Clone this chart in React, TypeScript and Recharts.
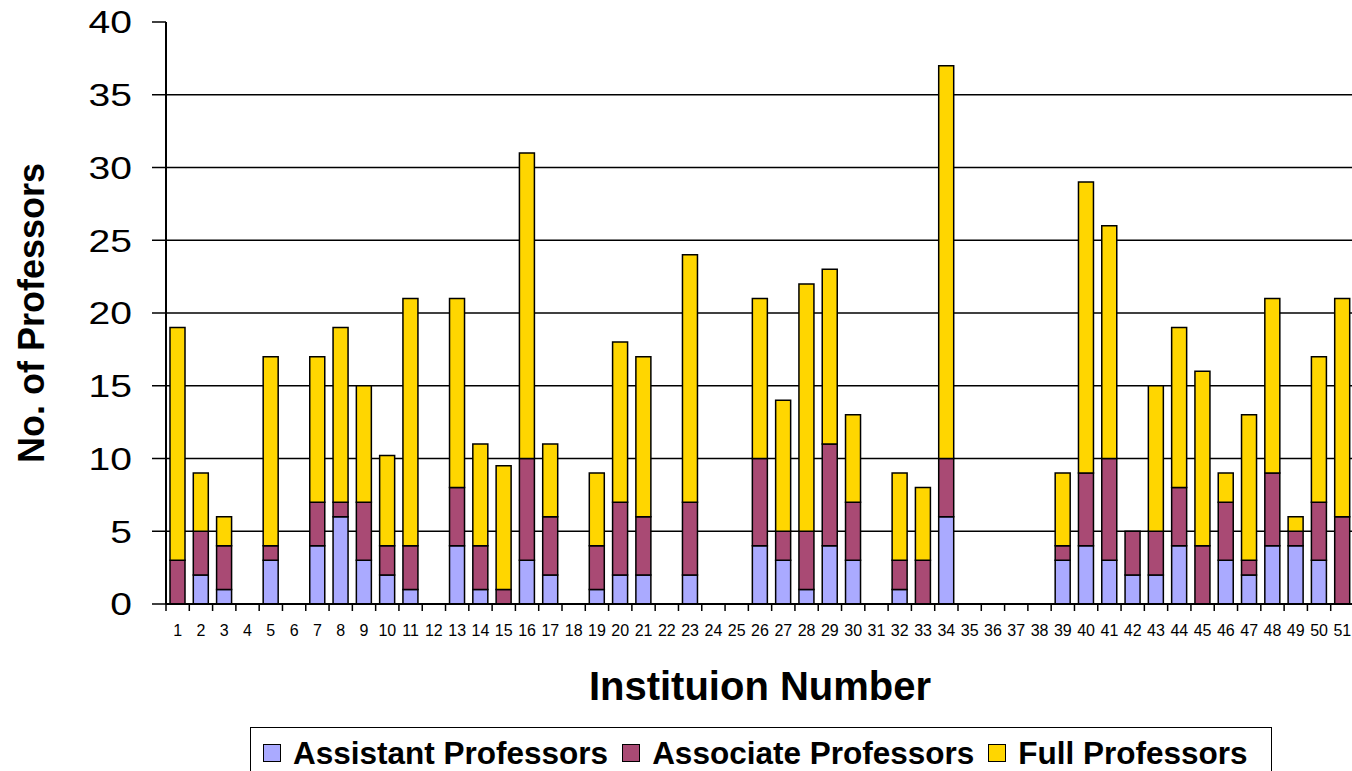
import React from 'react';
import { BarChart, Bar, XAxis, YAxis, CartesianGrid, Legend } from 'recharts';

const institutions = Array.from({ length: 51 }, (_, i) => String(i + 1));
const assistant = [0,2,1,0,3,0,4,6,3,2, 1,0,4,1,0,3,2,0,1,2, 2,0,2,0,0,4,3,1,4,3, 0,1,0,6,0,0,0,0,3,4, 3,2,2,4,0,3,2,4,4,3,0];
const associate = [3,3,3,0,1,0,3,1,4,2, 3,0,4,3,1,7,4,0,3,5, 4,0,5,0,0,6,2,4,7,4, 0,2,3,4,0,0,0,0,1,5, 7,3,3,4,4,4,1,5,1,4,6];
const full = [16,4,2,0,13,0,10,12,8,6.2, 17,0,13,7,8.5,21,5,0,5,11, 11,0,17,0,0,11,9,17,12,6, 0,6,5,27,0,0,0,0,5,20, 16,0,10,11,12,2,10,12,1,10,15];
const yTicks = [0, 5, 10, 15, 20, 25, 30, 35, 40];
const gridValues = [5, 10, 15, 20, 25, 30, 35];

const seriesNames = ['Assistant Professors', 'Associate Professors', 'Full Professors'];
const colors = ['#AAAAFF', '#A94A74', '#FFD600'];

const data = institutions.map((name, i) => ({
  name,
  assistant: assistant[i],
  associate: associate[i],
  full: full[i],
}));

const CHART_W = 1356;
const CHART_H = 771;
const MARGIN = { top: 22, right: 2, left: 0, bottom: 0 };
const Y_AXIS_W = 166;
const X_AXIS_H = 167;
const PLOT_W = CHART_W - MARGIN.left - MARGIN.right - Y_AXIS_W;
const BAND = PLOT_W / institutions.length;
const FONT = '"Liberation Sans", Arial, sans-serif';

const X_TICK_SIZE = 7;
const X_TICK_MARGIN = 14;

const XTick = (props: any) => {
  const { x, y, payload, index } = props;
  const top = y - X_TICK_MARGIN - X_TICK_SIZE;
  const bot = y - X_TICK_MARGIN;
  return (
    <g>
      <line x1={x - BAND / 2} x2={x - BAND / 2} y1={top} y2={bot} stroke="#000" strokeWidth={1.5} />
      {index === institutions.length - 1 && (
        <line x1={x + BAND / 2} x2={x + BAND / 2} y1={top} y2={bot} stroke="#000" strokeWidth={1.5} />
      )}
      <text x={x} y={y} dy="0.71em" textAnchor="middle" fontSize={16} fontFamily={FONT} fill="#000">
        {payload.value}
      </text>
    </g>
  );
};

const YTick = (props: any) => {
  const { x, y, payload } = props;
  return (
    <text
      x={0}
      y={0}
      dy="0.355em"
      textAnchor="end"
      fontSize={32}
      fontFamily={FONT}
      fill="#000"
      transform={`translate(${x}, ${y}) scale(1.22, 1)`}
    >
      {payload.value}
    </text>
  );
};

const YLabel = (props: any) => {
  const vb = props.viewBox || { x: 0, y: 22, width: 166, height: 582 };
  const cx = vb.x + 31;
  const cy = vb.y + vb.height / 2;
  return (
    <text
      x={cx}
      y={cy}
      textAnchor="middle"
      dominantBaseline="central"
      transform={`rotate(-90, ${cx}, ${cy})`}
      fontSize={36}
      fontWeight="bold"
      fontFamily={FONT}
      fill="#000"
    >
      No. of Professors
    </text>
  );
};

const XLabel = (props: any) => {
  const vb = props.viewBox || { x: 166, y: 604, width: 1188, height: 167 };
  const cx = vb.x + vb.width / 2;
  const cy = vb.y + 82;
  return (
    <text x={cx} y={cy} textAnchor="middle" dominantBaseline="central" fontSize={40} fontWeight="bold" fontFamily={FONT} fill="#000">
      Instituion Number
    </text>
  );
};

const renderLegend = () => (
  <div
    style={{
      border: '1.5px solid #000',
      height: 60,
      boxSizing: 'border-box',
      display: 'flex',
      alignItems: 'flex-start',
      paddingLeft: 12,
      paddingTop: 9,
      background: '#fff',
      fontFamily: FONT,
      fontWeight: 'bold',
      fontSize: 31.5,
      lineHeight: '32px',
      color: '#000',
      whiteSpace: 'nowrap',
    }}
  >
    {seriesNames.map((n, i) => (
      <div key={n} style={{ display: 'flex', alignItems: 'center', marginRight: 14 }}>
        <span
          style={{
            display: 'inline-block',
            width: 18,
            height: 18,
            background: colors[i],
            border: '1.5px solid #000',
            boxSizing: 'border-box',
            marginRight: 12,
          }}
        />
        <span>{n}</span>
      </div>
    ))}
  </div>
);

const gridGen = (args: any) => {
  const yAxis = args && args.yAxis;
  if (yAxis && typeof yAxis.scale === 'function') {
    return gridValues.map((v) => yAxis.scale(v));
  }
  const off = args.offset;
  return gridValues.map((v) => off.top + off.height * (1 - v / 40));
};

export default function App() {
  return (
    <div style={{ position: 'absolute', left: 0, top: 0, width: 1352, height: 771, overflow: 'hidden', background: '#fff' }}>
      <BarChart width={CHART_W} height={CHART_H} data={data} margin={MARGIN}>
        <CartesianGrid vertical={false} stroke="#000" strokeWidth={1.5} horizontalCoordinatesGenerator={gridGen} />
        <XAxis
          dataKey="name"
          height={X_AXIS_H}
          interval={0}
          tickLine={false}
          tickSize={X_TICK_SIZE}
          tickMargin={X_TICK_MARGIN}
          tick={<XTick />}
          axisLine={{ stroke: '#000', strokeWidth: 2 }}
          label={<XLabel />}
        />
        <YAxis
          width={Y_AXIS_W}
          domain={[0, 40]}
          ticks={yTicks}
          interval={0}
          tickSize={14}
          tickMargin={20}
          tickLine={{ stroke: '#000', strokeWidth: 1.5 }}
          axisLine={{ stroke: '#000', strokeWidth: 2 }}
          tick={<YTick />}
          label={<YLabel />}
        />
        <Legend
          layout="horizontal"
          verticalAlign="middle"
          align="center"
          wrapperStyle={{ left: 250, top: 727, width: 1022 }}
          content={renderLegend}
        />
        <Bar dataKey="assistant" name={seriesNames[0]} stackId="a" fill={colors[0]} stroke="#000" strokeWidth={1.5} barSize={15} isAnimationActive={false} />
        <Bar dataKey="associate" name={seriesNames[1]} stackId="a" fill={colors[1]} stroke="#000" strokeWidth={1.5} barSize={15} isAnimationActive={false} />
        <Bar dataKey="full" name={seriesNames[2]} stackId="a" fill={colors[2]} stroke="#000" strokeWidth={1.5} barSize={15} isAnimationActive={false} />
      </BarChart>
    </div>
  );
}
